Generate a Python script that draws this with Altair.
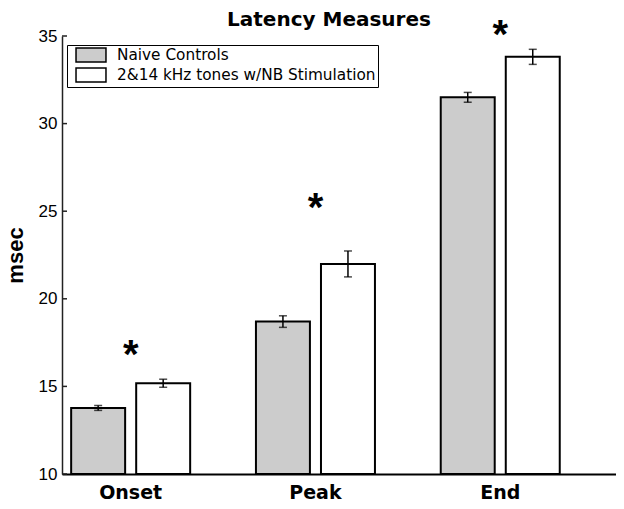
import altair as alt
import pandas as pd

categories = ["Onset", "Peak", "End"]
series = ["Naive Controls", "2&14 kHz tones w/NB Stimulation"]
naive_means = [13.77, 18.70, 31.50]
naive_errs = [0.14, 0.33, 0.28]
nb_means = [15.18, 21.99, 33.81]
nb_errs = [0.23, 0.74, 0.43]
star_values = [17.16, 25.52, 35.41]
y_ticks = [10, 15, 20, 25, 30, 35]

rows = []
for i, c in enumerate(categories):
    rows.append({"cat": c, "series": series[0], "mean": naive_means[i],
                 "lo": naive_means[i] - naive_errs[i], "hi": naive_means[i] + naive_errs[i]})
    rows.append({"cat": c, "series": series[1], "mean": nb_means[i],
                 "lo": nb_means[i] - nb_errs[i], "hi": nb_means[i] + nb_errs[i]})
df = pd.DataFrame(rows)
stars = pd.DataFrame({"cat": categories, "v": star_values})
ticks = pd.DataFrame({"t": y_ticks})

FONT = "Liberation Sans"
WIDE = "DejaVu Sans"

xscale = alt.Scale(domain=categories, paddingInner=0.356, paddingOuter=0.177, align=0.14)
yscale = alt.Scale(domain=[10, 35], nice=False, zero=False)
offscale = alt.Scale(domain=series, paddingInner=0.17, paddingOuter=0)

x_axis = alt.Axis(title=None, labelFontSize=19, labelFontWeight="bold",
                  labelAngle=0, ticks=False, domainWidth=2, domainColor="black",
                  labelPadding=9, labelColor="black", labelFont=WIDE, grid=False)
y_axis = alt.Axis(values=y_ticks, tickSize=0, labelPadding=5, labelFontSize=17,
                  labelColor="black", labelFont=FONT, domainWidth=1.5, domainColor="#222",
                  grid=False, title="msec", titleFontSize=22, titleFontWeight="bold",
                  titleColor="black", titlePadding=11, titleFont=FONT)

def xe():
    return alt.X("cat:N", scale=xscale, sort=categories, axis=x_axis)

def ye(field):
    return alt.Y(field, scale=yscale, axis=y_axis)

xoff = alt.XOffset("series:N", scale=offscale, sort=series)

base = alt.Chart(df)

bars = base.mark_bar(stroke="black", strokeWidth=2).encode(
    x=xe(),
    xOffset=xoff,
    y=ye("mean:Q"),
    y2=alt.datum(10),
    fill=alt.Fill("series:N", sort=series,
                  scale=alt.Scale(domain=series, range=["#cccccc", "#ffffff"]),
                  legend=alt.Legend(title=None, orient="none", legendX=5, legendY=9,
                                    strokeColor="black", fillColor="white", padding=2,
                                    rowPadding=0, symbolType="M-2.14,-1H2.14V1H-2.14Z",
                                    symbolSize=196, symbolStrokeColor="black",
                                    symbolStrokeWidth=1.5, symbolOffset=14, labelOffset=18,
                                    labelFontSize=15.3, labelFont=WIDE, labelColor="black",
                                    labelLimit=400, symbolOpacity=1)),
)

err = base.mark_rule(color="black", strokeWidth=1.5).encode(
    x=xe(), xOffset=xoff, y=ye("lo:Q"), y2="hi:Q",
)
cap_lo = base.mark_tick(color="black", size=8, thickness=1.5, orient="horizontal").encode(
    x=xe(), xOffset=xoff, y=ye("lo:Q"),
)
cap_hi = base.mark_tick(color="black", size=8, thickness=1.5, orient="horizontal").encode(
    x=xe(), xOffset=xoff, y=ye("hi:Q"),
)

star = alt.Chart(stars).mark_text(text="*", fontSize=40, fontWeight="bold", font=FONT,
                                  baseline="alphabetic", dy=19, color="black", clip=False).encode(
    x=xe(), y=ye("v:Q"),
)

inticks = alt.Chart(ticks).mark_rule(color="#222", strokeWidth=1.5).encode(
    y=ye("t:Q"),
    x=alt.value(0),
    x2=alt.value(5),
)

chart = alt.layer(bars, err, cap_lo, cap_hi, star, inticks).properties(
    width=554, height=438,
    title=alt.TitleParams("Latency Measures", fontSize=20, fontWeight="bold", font=WIDE,
                          anchor="middle", dx=-10, dy=30, color="black", offset=0,
                          frame="group", baseline="alphabetic"),
    padding={"left": 54, "top": 28, "right": 0, "bottom": 30},
    autosize=alt.AutoSizeParams(type="none"),
).configure(font=FONT, background="white").configure_view(
    strokeWidth=0, stroke="transparent").configure_axis(grid=False)

chart.save("out.html", embed_options={"renderer": "svg", "actions": False})
